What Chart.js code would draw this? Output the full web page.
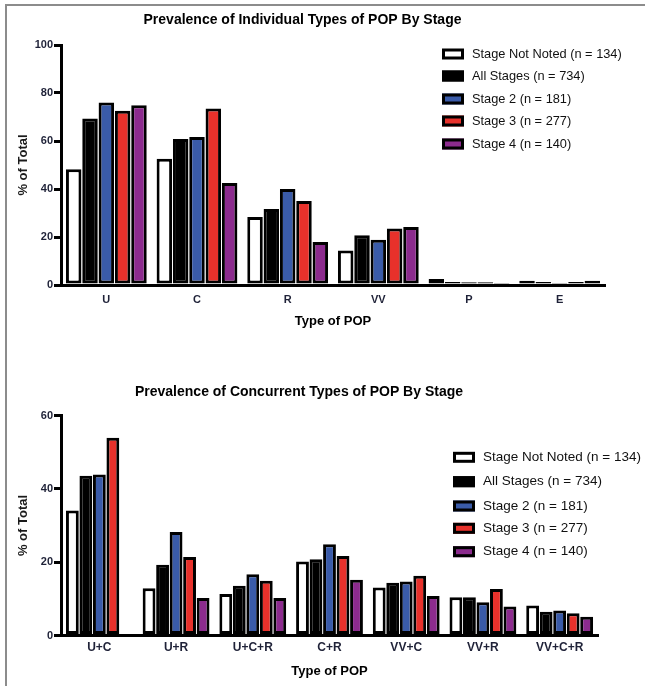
<!DOCTYPE html>
<html>
<head>
<meta charset="utf-8">
<title>Prevalence of POP by Stage</title>
<script src="https://cdn.jsdelivr.net/npm/chart.js@4.4.0/dist/chart.umd.min.js"></script>
<style>
  html, body { margin: 0; padding: 0; background: #fff; }
  body { width: 645px; height: 686px; position: relative; overflow: hidden; }
  .frame { position: absolute; left: 5px; top: 4px; width: 700px; height: 700px;
           border-left: 2px solid #8c8c8c; border-top: 2px solid #8c8c8c; }
  .box { position: absolute; left: 0; width: 645px; }
  #top-box { top: 0; height: 350px; }
  #bottom-box { top: 350px; height: 336px; }
</style>
</head>
<body>
<div class="frame"></div>
<div class="box" id="top-box"><canvas id="individual-chart" width="645" height="350"></canvas></div>
<div class="box" id="bottom-box"><canvas id="concurrent-chart" width="645" height="336"></canvas></div>

<script>
// data (% of total)
const seriesLabels = ['Stage Not Noted (n = 134)', 'All Stages (n = 734)', 'Stage 2 (n = 181)', 'Stage 3 (n = 277)', 'Stage 4 (n = 140)']
const seriesColors = ['#ffffff', '#000000', '#3a5ba9', '#e8312b', '#8c2b8e']

const individualTypes = ['U', 'C', 'R', 'VV', 'P', 'E']
const individualNotNoted = [48.2, 52.6, 28.3, 14.4, 2.5, 1.8]
const individualAll = [69.4, 60.8, 31.7, 20.7, 1.2, 1.2]
const individualStage2 = [76.0, 61.7, 40.0, 18.9, 1.1, 0.4]
const individualStage3 = [72.6, 73.5, 35.0, 23.5, 1.1, 1.2]
const individualStage4 = [74.9, 42.5, 17.9, 24.2, 0.3, 1.8]

const concurrentTypes = ['U+C', 'U+R', 'U+C+R', 'C+R', 'VV+C', 'VV+R', 'VV+C+R']
const concurrentNotNoted = [34.1, 12.9, 11.3, 20.2, 13.1, 10.4, 8.2]
const concurrentAll = [43.6, 19.3, 13.6, 20.8, 14.4, 10.4, 6.5]
const concurrentStage2 = [43.9, 28.2, 16.7, 24.9, 14.7, 9.1, 6.8]
const concurrentStage3 = [53.9, 21.4, 14.9, 21.7, 16.3, 12.7, 6.1]
const concurrentStage4 = [null, 10.2, 10.2, 15.2, 10.8, 7.9, 5.1]

const individualTicks = [0, 20, 40, 60, 80, 100]
const concurrentTicks = [0, 20, 40, 60]

const FONT = "'Liberation Sans', Arial, sans-serif"
const TICK_COLOR = '#1f2238'

// legend drawn next to the bars, like the original figure
const sideLegend = {
  id: 'sideLegend',
  afterDraw(chart, args, opts) {
    const ctx = chart.ctx
    ctx.save()
    chart.data.datasets.forEach(function (ds, i) {
      const y = opts.rows[i]
      ctx.fillStyle = ds.backgroundColor
      ctx.fillRect(opts.x, y - opts.boxH / 2, opts.boxW, opts.boxH)
      ctx.lineWidth = 3
      ctx.strokeStyle = '#000'
      ctx.strokeRect(opts.x + 1.5, y - opts.boxH / 2 + 1.5, opts.boxW - 3, opts.boxH - 3)
      ctx.fillStyle = '#111'
      ctx.font = opts.font
      ctx.textBaseline = 'middle'
      ctx.textAlign = 'left'
      ctx.fillText(ds.label, opts.textX, y)
    })
    ctx.restore()
  }
}

function makeDatasets(values, barPct, catPct) {
  return values.map(function (data, i) {
    return {
      label: seriesLabels[i],
      data: data,
      backgroundColor: seriesColors[i],
      borderColor: '#000',
      borderWidth: 3,
      borderSkipped: false,
      barPercentage: barPct,
      categoryPercentage: catPct
    }
  })
}

function makeOptions(cfg) {
  return {
    responsive: false,
    animation: false,
    layout: { padding: { left: 0, right: cfg.right, top: 0, bottom: 0 } },
    plugins: {
      legend: { display: false },
      tooltip: { enabled: false },
      title: {
        display: true,
        text: cfg.title,
        color: '#000',
        font: { family: FONT, size: 14, weight: 'bold' },
        padding: cfg.titlePad
      },
      sideLegend: cfg.legend
    },
    scales: {
      x: {
        grid: { display: false, drawTicks: false },
        border: { display: true, color: '#000', width: 3 },
        ticks: { color: TICK_COLOR, padding: cfg.xTickPad, font: { family: FONT, size: cfg.xTickSize, weight: 'bold' } },
        title: {
          display: true,
          text: 'Type of POP',
          color: '#000',
          font: { family: FONT, size: 13, weight: 'bold' },
          padding: { top: 0, bottom: cfg.xTitlePad }
        },
        afterFit: function (scale) { scale.height = cfg.xHeight }
      },
      y: {
        min: 0,
        max: cfg.ticks[cfg.ticks.length - 1],
        afterBuildTicks: function (scale) { scale.ticks = cfg.ticks.map(function (v) { return { value: v } }) },
        grid: { drawOnChartArea: false, drawTicks: true, tickLength: 7, color: '#000', lineWidth: 3 },
        border: { display: true, color: '#000', width: 3 },
        ticks: { color: TICK_COLOR, padding: 1, font: { family: FONT, size: 11, weight: 'bold' } },
        title: {
          display: true,
          text: '% of Total',
          color: '#1a1a1a',
          font: { family: FONT, size: 13, weight: 'bold' },
          padding: { top: 16, bottom: 0 }
        },
        afterFit: function (scale) { scale.width = 61 }
      }
    }
  }
}

new Chart(document.getElementById('individual-chart'), {
  type: 'bar',
  data: {
    labels: individualTypes,
    datasets: makeDatasets([individualNotNoted, individualAll, individualStage2, individualStage3, individualStage4], 0.95, 0.9)
  },
  options: makeOptions({
    title: 'Prevalence of Individual Types of POP By Stage',
    titlePad: { top: 12, bottom: 16.2 },
    right: 40,
    xHeight: 65,
    xTickPad: 8,
    xTickSize: 11,
    xTitlePad: 20.8,
    ticks: individualTicks,
    legend: { x: 442, textX: 472, boxW: 22, boxH: 11, rows: [54, 76, 99, 121, 144], font: '12.8px ' + FONT }
  }),
  plugins: [sideLegend]
})

new Chart(document.getElementById('concurrent-chart'), {
  type: 'bar',
  data: {
    labels: concurrentTypes,
    datasets: makeDatasets([concurrentNotNoted, concurrentAll, concurrentStage2, concurrentStage3, concurrentStage4], 0.95, 0.88)
  },
  options: makeOptions({
    title: 'Prevalence of Concurrent Types of POP By Stage',
    titlePad: { top: 33.3, bottom: 15.4 },
    right: 47,
    xHeight: 50.5,
    xTickPad: 5,
    xTickSize: 12,
    xTitlePad: 7,
    ticks: concurrentTicks,
    legend: { x: 453, textX: 483, boxW: 22, boxH: 11, rows: [107.3, 131.7, 156, 178.3, 201.7], font: '13.5px ' + FONT }
  }),
  plugins: [sideLegend]
})
</script>
</body>
</html>
